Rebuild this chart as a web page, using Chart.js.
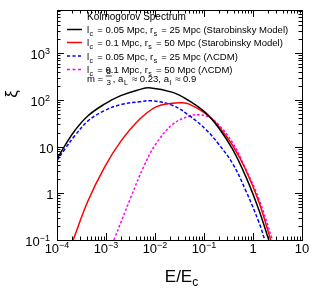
<!DOCTYPE html>
<html>
<head>
<meta charset="utf-8">
<script src="https://cdn.jsdelivr.net/npm/chart.js@4/dist/chart.umd.min.js"></script>
<style>
html,body{margin:0;padding:0;background:#fff;}
#wrap{width:315px;height:300px;position:relative;}
</style>
</head>
<body>
<div id="wrap"><canvas id="c" width="315" height="300"></canvas></div>
<script>
// ---- data ----
const blackX = [1e-4, 1.45e-4, 2.3e-4, 4.3e-4, 9.3e-4, 2.0e-3, 4.8e-3, 7.6e-3, 0.023, 0.05, 0.11, 0.2, 0.38, 0.71, 1.32, 2.1];
const blackY = [5.4, 10.5, 21.9, 45.7, 81, 123, 166, 182, 145, 95, 52, 25, 8.9, 2.3, 0.44, 0.1];

const redX = [2.14e-4, 4.3e-4, 9.3e-4, 2.0e-3, 4.8e-3, 0.0105, 0.023, 0.034, 0.05, 0.11, 0.2, 0.38, 0.71, 1.32, 2.3];
const redY = [0.1, 0.69, 3.6, 12.9, 38, 71, 85, 87, 81, 50, 27, 10.7, 3.2, 0.65, 0.1];

const blueX = [1e-4, 1.45e-4, 2.3e-4, 4.3e-4, 9.3e-4, 2.0e-3, 4.8e-3, 8.9e-3, 0.023, 0.05, 0.11, 0.2, 0.38, 0.71, 1.32, 1.74];
const blueY = [5.0, 8.9, 17, 35.5, 59, 79, 91, 95, 76, 46, 23, 11.2, 4.4, 1.15, 0.24, 0.1];

const magX = [1.45e-3, 3.2e-3, 6.0e-3, 0.0105, 0.023, 0.05, 0.079, 0.126, 0.2, 0.38, 0.71, 1.32, 2.5];
const magY = [0.1, 0.81, 3.9, 11.5, 30, 45, 48, 43, 29, 12.3, 3.3, 0.76, 0.1];

const xTickValues = [1e-4, 1e-3, 1e-2, 1e-1, 1, 10];
const xTickLabels = [["10","−4"],["10","−3"],["10","−2"],["10","−1"],["1",""],["10",""]];
const yTickValues = [0.1, 1, 10, 100, 1000];
const yTickLabels = [["10","−1"],["1",""],["10",""],["10","2"],["10","3"]];

const legendTitle = "Kolmogorov Spectrum";
const legendRows = [
  {lc:"0.05", rs:"25", model:"(Starobinsky Model)"},
  {lc:"0.1",  rs:"50", model:"(Starobinsky Model)"},
  {lc:"0.05", rs:"25", model:"(ΛCDM)"},
  {lc:"0.1",  rs:"50", model:"(ΛCDM)"}
];
const xTitle = ["E/E","c"];
const yTitle = "ξ";

const FONT = '"Liberation Sans", Arial, Helvetica, sans-serif';
const colors = ["#000000","#ff0000","#0000ff","#ff00ff"];
const dashes = [[],[],[3.5,2],[2.5,2]];

function pts(xs, ys){ return xs.map((x,i)=>({x:x, y:ys[i]})); }

function mkDs(label, xs, ys, idx){
  return {label:label, data:pts(xs,ys), borderColor:colors[idx], borderWidth:1.5,
    borderDash:dashes[idx], pointRadius:0, showLine:true, fill:false,
    tension:0.4};
}

function richWidth(ctx, parts){
  let w=0; for(const p of parts){ ctx.font = p.s+'px '+FONT; w+=ctx.measureText(p.t).width+(p.pad||0); } return w;
}
function drawRich(ctx, parts, x, y, align){
  const w = richWidth(ctx, parts);
  let cx = align==='center' ? x-w/2 : (align==='right' ? x-w : x);
  ctx.textAlign='left'; ctx.textBaseline='alphabetic';
  for(const p of parts){
    ctx.font = p.s+'px '+FONT;
    ctx.fillText(p.t, cx, y+(p.dy||0));
    cx += ctx.measureText(p.t).width+(p.pad||0);
  }
  return cx;
}
function rowParts(r, FS, SS){
  return [{t:'l',s:FS,pad:0.5},{t:'c',s:SS,dy:3,pad:1.5},{t:' = '+r.lc+' Mpc, r',s:FS,pad:0.5},{t:'s',s:SS,dy:3,pad:1.5},
          {t:' = '+r.rs+' Mpc '+r.model,s:FS}];
}

const decor = {
  id:'decor',
  afterDatasetsDraw(chart){
    const ctx = chart.ctx, a = chart.chartArea;
    const xs = chart.scales.x, ys = chart.scales.y;
    ctx.save();
    ctx.strokeStyle='#000'; ctx.fillStyle='#000'; ctx.lineWidth=1;
    ctx.strokeRect(Math.round(a.left)+0.5, Math.round(a.top)+0.5, Math.round(a.right-a.left), Math.round(a.bottom-a.top));
    ctx.beginPath();
    for(let d=-4; d<=1; d++){
      for(let k=1;k<=9;k++){
        const v = k*Math.pow(10,d);
        if(v<xs.min*0.999 || v>xs.max*1.001) continue;
        const px = Math.round(xs.getPixelForValue(v))+0.5;
        const L = k===1?7:3.5;
        ctx.moveTo(px, a.bottom); ctx.lineTo(px, a.bottom-L);
        ctx.moveTo(px, a.top); ctx.lineTo(px, a.top+L);
      }
    }
    for(let d=-1; d<=3; d++){
      for(let k=1;k<=9;k++){
        const v = k*Math.pow(10,d);
        if(v<ys.min*0.999 || v>ys.max*1.001) continue;
        const py = Math.round(ys.getPixelForValue(v))+0.5;
        const L = k===1?7:3.5;
        ctx.moveTo(a.left, py); ctx.lineTo(a.left+L, py);
        ctx.moveTo(a.right, py); ctx.lineTo(a.right-L, py);
      }
    }
    ctx.stroke();

    xTickValues.forEach((v,i)=>{
      const px = xs.getPixelForValue(v);
      const lab = xTickLabels[i];
      const parts=[{t:lab[0],s:13}];
      if(lab[1]) parts.push({t:lab[1],s:9,dy:-5});
      drawRich(ctx, parts, px, a.bottom+13, 'center');
    });
    yTickValues.forEach((v,i)=>{
      const py = ys.getPixelForValue(v);
      const lab = yTickLabels[i];
      const parts=[{t:lab[0],s:13}];
      if(lab[1]) parts.push({t:lab[1],s:9,dy:-5});
      drawRich(ctx, parts, lab[1]? a.left-7 : a.left-3.5, py+6, 'right');
    });

    const cxm = (a.left+a.right)/2;
    drawRich(ctx, [{t:xTitle[0],s:17},{t:xTitle[1],s:12,dy:4}], cxm+2, 282, 'center');
    ctx.save();
    ctx.translate(17, 94);
    ctx.rotate(-Math.PI/2);
    ctx.font = '17px '+FONT; ctx.textAlign='center'; ctx.textBaseline='alphabetic';
    ctx.fillText(yTitle, 0, 0);
    ctx.restore();

    const lx0 = 67, lx1 = 82, tx = 87;
    const w10 = richWidth(ctx, rowParts(legendRows[0], 10, 7));
    const FS = Math.max(9, Math.min(11, 10*201/w10));
    const SS = 7;
    drawRich(ctx, [{t:legendTitle,s:10}], tx, 19.5, 'left');
    const rowY = [29.5, 42.5, 56, 69.5];
    legendRows.forEach((r,i)=>{
      const y = rowY[i];
      ctx.save();
      ctx.strokeStyle = colors[i]; ctx.lineWidth=1.5; ctx.setLineDash(dashes[i].length? [3,2.5] : []);
      ctx.beginPath(); ctx.moveTo(lx0, y); ctx.lineTo(lx1, y); ctx.stroke();
      ctx.restore();
      drawRich(ctx, rowParts(r, FS, SS), tx, y+3.5, 'left');
    });
    let cx = drawRich(ctx, [{t:'m = ',s:FS}], tx, 82, 'left');
    ctx.font = '8px '+FONT; ctx.textAlign='center';
    const fw = 6;
    ctx.fillText('5', cx+fw/2, 74);
    ctx.fillText('3', cx+fw/2, 85);
    ctx.beginPath(); ctx.lineWidth=0.8; ctx.moveTo(cx, 76); ctx.lineTo(cx+fw, 76); ctx.stroke();
    cx += fw+1;
    drawRich(ctx, [{t:', a',s:FS,pad:0.5},{t:'L',s:SS,dy:3,pad:1.5},{t:' ≈ 0.23, a',s:FS,pad:0.5},{t:'l',s:SS,dy:3,pad:1.5},{t:' ≈ 0.9',s:FS}], cx, 82, 'left');

    ctx.restore();
  }
};

new Chart(document.getElementById('c'), {
  type:'scatter',
  data:{datasets:[
    mkDs('l_c = 0.05 Mpc, r_s = 25 Mpc (Starobinsky Model)', blackX, blackY, 0),
    mkDs('l_c = 0.1 Mpc, r_s = 50 Mpc (Starobinsky Model)', redX, redY, 1),
    mkDs('l_c = 0.05 Mpc, r_s = 25 Mpc (ΛCDM)', blueX, blueY, 2),
    mkDs('l_c = 0.1 Mpc, r_s = 50 Mpc (ΛCDM)', magX, magY, 3)
  ]},
  options:{
    responsive:false, animation:false, devicePixelRatio:1,
    layout:{padding:{left:57, right:13, top:10, bottom:60}},
    plugins:{legend:{display:false}, tooltip:{enabled:false}, title:{display:false}},
    scales:{
      x:{type:'logarithmic', min:1e-4, max:10, display:false},
      y:{type:'logarithmic', min:0.1, max:8400, display:false}
    }
  },
  plugins:[decor]
});
</script>
</body>
</html>
